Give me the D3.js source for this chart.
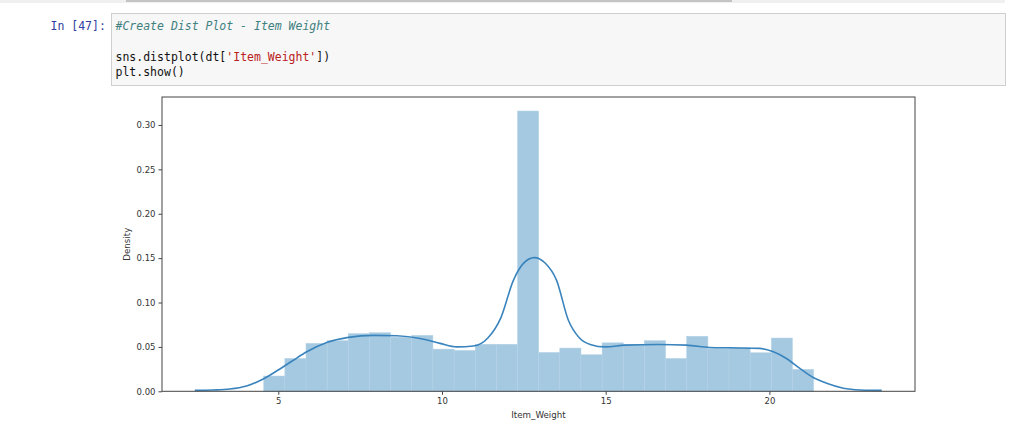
<!DOCTYPE html>
<html>
<head>
<meta charset="utf-8">
<script src="https://cdn.jsdelivr.net/npm/d3@7"></script>
<style>
  html, body { margin: 0; padding: 0; background: #fff; }
  svg { display: block; }
</style>
</head>
<body>
<svg id="page" width="1024" height="435"></svg>
<script>
// ---------- data ----------
const binLow = 4.555;
const binHigh = 21.35;
const binCount = 26;
const densities = [0.0172, 0.037, 0.054, 0.057, 0.065, 0.066, 0.061, 0.063, 0.0475, 0.046,
                   0.053, 0.053, 0.3157, 0.0438, 0.0487, 0.0412, 0.0546, 0.053, 0.057, 0.037,
                   0.062, 0.048, 0.049, 0.0434, 0.060, 0.0247];
const kdeX = [2.45, 3.0, 3.52, 4.03, 4.54, 5.0, 5.46, 5.87, 6.48, 7.14, 7.9, 8.62, 9.33, 9.94,
              10.45, 10.96, 11.4, 11.8, 12.18, 12.48, 12.82, 13.15, 13.5, 13.86, 14.2,
              14.55, 14.98, 15.6, 16.6, 17.47, 18.18, 18.8, 19.71, 20.12, 20.52, 20.93,
              21.34, 21.75, 22.26, 22.77, 23.43];
const kdeY = [0.001, 0.0015, 0.0026, 0.006, 0.0138, 0.024, 0.035, 0.0445, 0.055, 0.0607, 0.063,
              0.0625, 0.0595, 0.054, 0.050, 0.051, 0.060, 0.083, 0.125, 0.1438, 0.1506,
              0.1445, 0.125, 0.080, 0.060, 0.0525, 0.050, 0.052, 0.0528, 0.052, 0.0494,
              0.049, 0.0483, 0.0445, 0.037, 0.0258, 0.0155, 0.009, 0.0034, 0.0015, 0.001];
const xTicks = [5, 10, 15, 20];
const yTicks = [0.00, 0.05, 0.10, 0.15, 0.20, 0.25, 0.30];
const xLabel = "Item_Weight";
const yLabel = "Density";
const promptText = "In [47]:";

// ---------- page ----------
const svg = d3.select("#page");
const mono = "'DejaVu Sans Mono', 'Liberation Mono', monospace";

// previous output scroll strip
svg.append("rect").attr("x", 0).attr("y", 0).attr("width", 1005).attr("height", 3).attr("fill", "#f0f0f0");
svg.append("rect").attr("x", 126).attr("y", 0).attr("width", 606).attr("height", 2).attr("fill", "#c4c4c4");

// input cell
svg.append("rect").attr("x", 111.5).attr("y", 13.5).attr("width", 894).attr("height", 72)
  .attr("fill", "#f7f7f7").attr("stroke", "#cfcfcf").attr("stroke-width", 1);
svg.append("text").attr("x", 50.5).attr("y", 29.5).attr("font-family", mono).attr("font-size", 11.5)
  .attr("fill", "#303F9F").text(promptText);
svg.append("text").attr("x", 115.5).attr("y", 29.5).attr("font-family", mono).attr("font-size", 11.5)
  .attr("font-style", "italic").attr("fill", "#408080").text("#Create Dist Plot - Item Weight");
const l3 = svg.append("text").attr("x", 115.5).attr("y", 61).attr("font-family", mono).attr("font-size", 11.5).attr("fill", "#111");
l3.append("tspan").text("sns.distplot(dt[");
l3.append("tspan").attr("fill", "#BA2121").text("'Item_Weight'");
l3.append("tspan").text("])");
svg.append("text").attr("x", 115.5).attr("y", 75.5).attr("font-family", mono).attr("font-size", 11.5)
  .attr("fill", "#111").text("plt.show()");

// ---------- chart ----------
const L = 162, R = 915, T = 97, B = 391.3;
const x = d3.scaleLinear().domain([1.448, 24.447]).range([L, R]);
const y = d3.scaleLinear().domain([0, 0.3315]).range([B, T]);
const g = svg.append("g");

const binW = (binHigh - binLow) / binCount;
const bins = densities.map((d, i) => ({ x0: binLow + i * binW, x1: binLow + (i + 1) * binW, v: d }));

g.selectAll("rect.bar").data(bins).enter().append("rect").attr("class", "bar")
  .attr("x", d => x(d.x0)).attr("y", d => y(d.v))
  .attr("width", d => x(d.x1) - x(d.x0)).attr("height", d => y(0) - y(d.v))
  .attr("fill", "#a5c9e1").attr("stroke", "#b3d2e7").attr("stroke-width", 0.5);

const pts = kdeX.map((xv, i) => [xv, kdeY[i]]);
g.append("path").datum(pts)
  .attr("d", d3.line().x(d => x(d[0])).y(d => y(d[1])).curve(d3.curveMonotoneX))
  .attr("fill", "none").attr("stroke", "#3a84bd").attr("stroke-width", 1.6);

// frame
g.append("rect").attr("x", L).attr("y", T).attr("width", R - L).attr("height", B - T)
  .attr("fill", "none").attr("stroke", "#444").attr("stroke-width", 1);

const tickFont = "'DejaVu Sans', sans-serif";
const xAxis = g.append("g").attr("transform", `translate(0,${B})`)
  .call(d3.axisBottom(x).tickValues(xTicks).tickFormat(d3.format("d")).tickSize(3.5).tickPadding(3));
const yAxis = g.append("g").attr("transform", `translate(${L},0)`)
  .call(d3.axisLeft(y).tickValues(yTicks).tickFormat(d3.format(".2f")).tickSize(3.5).tickPadding(3));
[xAxis, yAxis].forEach(a => {
  a.select(".domain").remove();
  a.selectAll("line").attr("stroke", "#444");
  a.selectAll("text").attr("font-family", tickFont).attr("font-size", 8.5).attr("fill", "#333");
});

svg.append("text").attr("x", (L + R) / 2).attr("y", 418).attr("text-anchor", "middle")
  .attr("font-family", tickFont).attr("font-size", 8.7).attr("fill", "#333").text(xLabel);
svg.append("text").attr("transform", `translate(129.5,${(T + B) / 2}) rotate(-90)`).attr("text-anchor", "middle")
  .attr("font-family", tickFont).attr("font-size", 8.7).attr("fill", "#333").text(yLabel);
</script>
</body>
</html>
